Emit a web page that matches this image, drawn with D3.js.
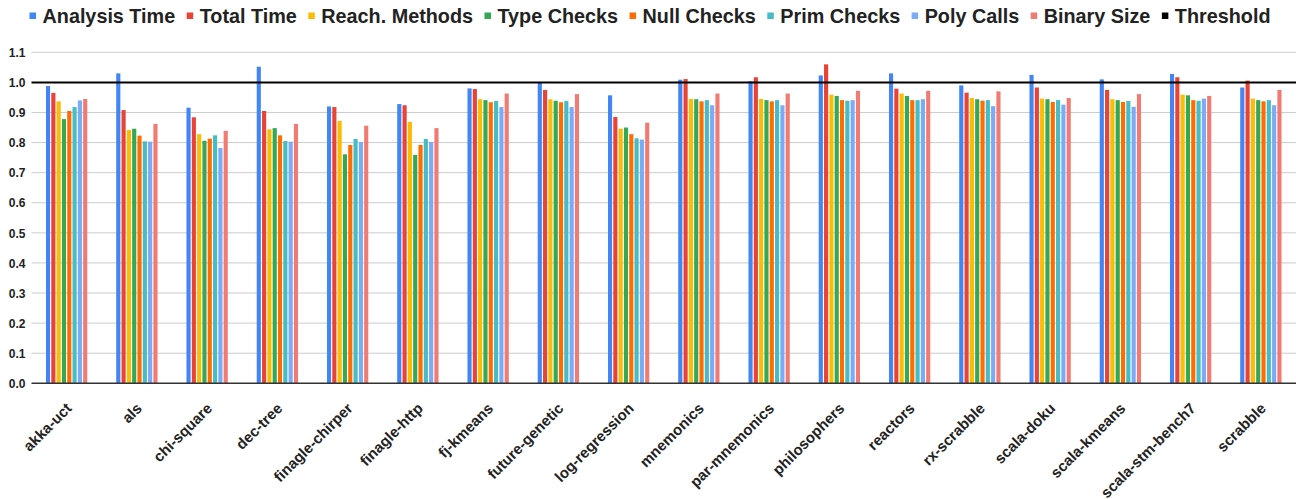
<!DOCTYPE html>
<html><head><meta charset="utf-8">
<script src="https://cdn.jsdelivr.net/npm/d3@7/dist/d3.min.js"></script>
<style>
body{margin:0;background:#fff;}
text{font-family:"Liberation Sans",Arial,sans-serif;font-weight:bold;fill:#222;}
</style></head>
<body><svg id="c" width="1296" height="499"></svg>
<script>
const categories = ["akka-uct","als","chi-square","dec-tree","finagle-chirper","finagle-http","fj-kmeans","future-genetic","log-regression","mnemonics","par-mnemonics","philosophers","reactors","rx-scrabble","scala-doku","scala-kmeans","scala-stm-bench7","scrabble"];
const seriesNames = ["Analysis Time","Total Time","Reach. Methods","Type Checks","Null Checks","Prim Checks","Poly Calls","Binary Size"];
const analysisTime = [0.988,1.030,0.916,1.052,0.920,0.928,0.980,0.999,0.957,1.009,1.004,1.023,1.030,0.990,1.025,1.010,1.028,0.983];
const totalTime    = [0.965,0.908,0.884,0.905,0.918,0.924,0.978,0.975,0.885,1.011,1.017,1.060,0.979,0.966,0.983,0.975,1.017,1.006];
const reachMethods = [0.937,0.842,0.828,0.844,0.872,0.869,0.944,0.944,0.846,0.945,0.945,0.959,0.963,0.948,0.946,0.944,0.959,0.946];
const typeChecks   = [0.878,0.846,0.806,0.848,0.761,0.759,0.941,0.939,0.850,0.944,0.941,0.955,0.955,0.944,0.944,0.941,0.957,0.941];
const nullChecks   = [0.905,0.823,0.813,0.824,0.792,0.792,0.934,0.934,0.828,0.937,0.937,0.941,0.941,0.939,0.935,0.935,0.941,0.937];
const primChecks   = [0.918,0.804,0.824,0.805,0.812,0.812,0.938,0.938,0.814,0.941,0.941,0.939,0.941,0.941,0.941,0.938,0.939,0.941];
const polyCalls    = [0.940,0.803,0.782,0.803,0.802,0.802,0.918,0.918,0.810,0.924,0.924,0.941,0.944,0.921,0.926,0.919,0.946,0.924];
const binarySize   = [0.945,0.862,0.839,0.862,0.856,0.848,0.963,0.961,0.866,0.963,0.963,0.972,0.972,0.970,0.948,0.961,0.955,0.975];
const threshold = [1.0];
const yTicks = [0,0.1,0.2,0.3,0.4,0.5,0.6,0.7,0.8,0.9,1.0,1.1];
const colors = ["#4285F4","#EA4335","#FBBC04","#34A853","#FF6D01","#46BDC6","#7BAAF7","#F07B72"];
const thresholdColor = "#000";
const seriesValues = [analysisTime,totalTime,reachMethods,typeChecks,nullChecks,primChecks,polyCalls,binarySize];

(function(){
const svg = d3.select("#c");
const pL = 31.5, pR = 1296, pT = 52.3, pB = 383.3;
const y = d3.scaleLinear().domain([0,1.1]).range([pB, pT]);
const x0 = d3.scaleBand().domain(categories).range([pL,pR]).paddingInner(0.412).paddingOuter(0.206);
const x1 = d3.scaleBand().domain(seriesNames).range([0,x0.bandwidth()]).paddingInner(0.22);

// grid
svg.append("g").selectAll("line").data(yTicks.filter(d=>d>0)).join("line")
  .attr("x1",pL).attr("x2",pR).attr("y1",d=>y(d)).attr("y2",d=>y(d))
  .attr("stroke","#cccccc").attr("stroke-width",1);

// y labels
const yAxis = d3.axisLeft(y).tickValues(yTicks).tickFormat(d3.format(".1f")).tickSize(0).tickPadding(6);
const ya = svg.append("g").attr("transform",`translate(${pL},0)`).call(yAxis);
ya.select(".domain").remove();
ya.selectAll("text").attr("font-size",12).attr("font-family","Liberation Sans, Arial, sans-serif").attr("font-weight","bold").attr("fill","#222").attr("dy","0.35em");

// bars
const groups = svg.append("g").selectAll("g").data(categories).join("g")
  .attr("transform",d=>`translate(${x0(d)},0)`);
groups.selectAll("rect").data((c,i)=>seriesNames.map((s,j)=>({s, j, v: seriesValues[j][i]}))).join("rect")
  .attr("x",d=>x1(d.s)).attr("width",x1.bandwidth())
  .attr("y",d=>y(d.v)).attr("height",d=>y(0)-y(d.v))
  .attr("fill",d=>colors[d.j]);

// baseline
svg.append("line").attr("x1",pL).attr("x2",pR).attr("y1",y(0)).attr("y2",y(0))
  .attr("stroke","#333").attr("stroke-width",1.5);

// threshold line
svg.append("g").selectAll("line").data(threshold).join("line")
  .attr("x1",pL).attr("x2",pR).attr("y1",d=>y(d)).attr("y2",d=>y(d))
  .attr("stroke",thresholdColor).attr("stroke-width",2);

// x labels
const xAxis = d3.axisBottom(x0).tickSize(0).tickPadding(0);
const xa = svg.append("g").attr("transform",`translate(0,${pB})`).call(xAxis);
xa.select(".domain").remove();
xa.selectAll("text").attr("font-size",15).attr("font-family","Liberation Sans, Arial, sans-serif")
  .attr("font-weight","bold").attr("fill","#222")
  .attr("text-anchor","end").attr("y",0).attr("dy",0)
  .attr("transform","translate(6,26) rotate(-45)");

// legend
const legendNames = seriesNames.concat(["Threshold"]);
const legendColors = colors.concat([thresholdColor]);
const lg = svg.append("g");
let cx = 0;
legendNames.forEach((n,i)=>{
  const g = lg.append("g").attr("transform",`translate(${cx},0)`);
  g.append("rect").attr("x",0).attr("y",12.5).attr("width",6.5).attr("height",6.5).attr("fill",legendColors[i]);
  const t = g.append("text").attr("x",13).attr("y",23).attr("font-size",19.8).text(n);
  cx += 13 + t.node().getComputedTextLength() + 11.5;
});
const totalW = cx - 11.5;
lg.attr("transform",`translate(${(1296-totalW)/2 + 2},0)`);
})();
</script></body></html>
